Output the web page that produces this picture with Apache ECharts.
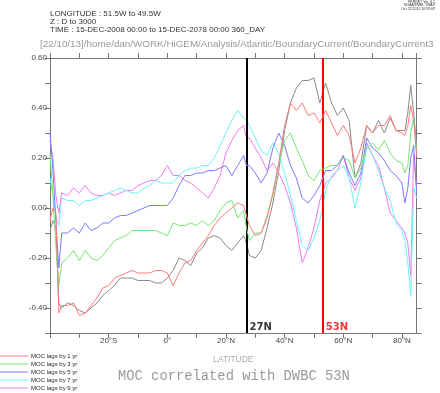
<!DOCTYPE html>
<html><head><meta charset="utf-8">
<script src="https://cdn.jsdelivr.net/npm/echarts@6/dist/echarts.min.js"></script>
<style>html,body{margin:0;padding:0;background:#fff}#c{width:440px;height:393px}</style>
</head><body><div id="c"></div>
<script>
const lats = [-40,-39,-38,-37,-36,-34,-32,-30,-28,-26,-24,-22,-20,-18,-16,-14,-12,-10,-8,-6,-4,-2,0,2,4,6,8,10,12,14,16,18,20,22,24,26,27,28,30,32,34,36,38,40,42,44,46,48,50,52,54,56,58,60,62,64,66,68,70,72,74,76,78,80,81,82,83,84,85];
const lag1 = [-0.05,0.00,-0.02,-0.42,-0.39,-0.39,-0.38,-0.43,-0.42,-0.39,-0.36,-0.32,-0.31,-0.28,-0.27,-0.26,-0.25,-0.26,-0.26,-0.26,-0.25,-0.25,-0.26,-0.31,-0.26,-0.22,-0.21,-0.17,-0.14,-0.11,-0.07,-0.04,-0.02,0.00,0.02,0.01,-0.03,-0.07,-0.11,-0.10,-0.04,0.06,0.18,0.33,0.42,0.39,0.42,0.37,0.38,0.34,0.39,0.34,0.29,0.33,0.29,0.18,0.24,0.33,0.30,0.33,0.33,0.37,0.31,0.30,0.29,0.33,0.41,0.35,0.21];
const lag3 = [0.22,0.05,-0.15,-0.31,-0.22,-0.20,-0.17,-0.21,-0.17,-0.20,-0.21,-0.19,-0.16,-0.13,-0.12,-0.11,-0.09,-0.09,-0.09,-0.09,-0.09,-0.10,-0.11,-0.06,-0.07,-0.07,-0.06,-0.07,-0.05,-0.07,-0.05,-0.01,0.02,0.03,-0.04,-0.01,-0.08,-0.13,-0.10,-0.10,-0.03,0.05,0.18,0.27,0.30,0.24,0.19,0.13,0.11,0.15,0.16,0.17,0.17,0.20,0.19,0.12,0.16,0.24,0.26,0.23,0.27,0.22,0.19,0.18,0.14,0.17,0.30,0.36,0.23];
const lag5 = [0.30,0.15,-0.05,-0.24,-0.10,-0.10,-0.08,-0.10,-0.06,-0.09,-0.08,-0.06,-0.06,-0.04,-0.03,-0.03,-0.02,-0.01,0.00,0.01,0.01,0.01,0.01,0.04,0.09,0.13,0.13,0.14,0.14,0.15,0.15,0.16,0.17,0.13,0.17,0.21,0.17,0.17,0.14,0.10,0.14,0.24,0.30,0.25,0.17,0.12,0.04,0.02,0.05,0.09,0.15,0.15,0.17,0.21,0.14,0.09,0.14,0.28,0.24,0.22,0.19,0.15,0.13,0.10,0.02,0.08,0.20,0.25,0.06];
const lag7 = [0.12,0.05,-0.03,-0.07,0.04,0.03,0.03,0.01,0.03,0.03,0.04,0.05,0.06,0.07,0.08,0.07,0.06,0.06,0.08,0.09,0.11,0.10,0.10,0.10,0.13,0.15,0.16,0.16,0.17,0.17,0.20,0.25,0.30,0.35,0.39,0.36,0.35,0.33,0.28,0.23,0.21,0.26,0.22,0.14,0.05,-0.05,-0.15,-0.17,-0.12,-0.05,0.07,0.13,0.15,0.17,0.12,0.00,0.10,0.25,0.21,0.15,0.08,0.03,-0.06,-0.09,-0.13,-0.22,-0.35,0.08,0.04];
const lag9 = [0.27,0.20,0.05,-0.02,0.06,0.05,0.08,0.06,0.09,0.06,0.05,0.05,0.06,0.05,0.06,0.07,0.07,0.09,0.10,0.11,0.11,0.13,0.17,0.13,0.13,0.11,0.10,0.08,0.06,0.04,0.08,0.13,0.22,0.27,0.31,0.33,0.28,0.28,0.24,0.20,0.15,0.18,0.14,0.09,0.02,-0.08,-0.22,-0.16,-0.08,0.03,0.10,0.12,0.15,0.21,0.12,0.07,0.12,0.26,0.21,0.17,0.08,-0.02,-0.05,-0.08,-0.10,-0.14,-0.27,0.22,0.08];
const lag0 = [-0.09,-0.05,-0.08,-0.38,-0.40,-0.38,-0.39,-0.41,-0.42,-0.40,-0.38,-0.35,-0.33,-0.31,-0.28,-0.28,-0.28,-0.29,-0.29,-0.29,-0.30,-0.30,-0.28,-0.25,-0.20,-0.21,-0.23,-0.18,-0.16,-0.12,-0.11,-0.12,-0.15,-0.17,-0.14,-0.11,-0.14,-0.19,-0.20,-0.17,-0.08,0.02,0.15,0.31,0.42,0.48,0.51,0.51,0.52,0.42,0.50,0.42,0.37,0.40,0.35,0.12,0.18,0.33,0.30,0.35,0.30,0.36,0.31,0.31,0.31,0.38,0.49,0.38,0.25];
const legendNames = ['MOC lags by 1 yr','MOC lags by 3 yr','MOC lags by 5 yr','MOC lags by 7 yr','MOC lags by 9 yr'];
const markerLats = [27, 53];
const markerLabels = ['27N', '53N'];
const yTickLabels = ['-0.40','-0.20','0.00','0.20','0.40','0.60'];

const colors = ['#ff7a7a','#74e874','#7a7aff','#6cf4f4','#f47af4','#8a8a8a'];
const seriesVals = [lag1, lag3, lag5, lag7, lag9, lag0];
const seriesNames = legendNames.concat(['MOC lags by 0 yr']);
const pairs = arr => lats.map((x, i) => [x, arr[i]]);

const chart = echarts.init(document.getElementById('c'), null, {renderer: 'canvas'});
const lineSeries = seriesVals.map((arr, i) => ({
  name: seriesNames[i], type: 'line', data: pairs(arr), showSymbol: false, symbol: 'none',
  lineStyle: {width: 1, color: colors[i]}, itemStyle: {color: colors[i]}, z: 2 + (5 - i), silent: true
}));
const markerSeries = {
  name: 'markers', type: 'scatter', symbolSize: 0, silent: true, z: 10,
  data: markerLats.map((x, i) => ({value: [x, -0.476], label: {formatter: markerLabels[i], color: i ? '#ff0000' : '#000000'}})),
  label: {show: true, position: 'right', distance: 3, fontFamily: 'DejaVu Sans', fontWeight: 'bold', fontSize: 10},
  markLine: {
    silent: true, symbol: ['none', 'none'], label: {show: false}, animation: false,
    data: [{xAxis: markerLats[0], lineStyle: {color: '#000', width: 2, type: 'solid'}},
           {xAxis: markerLats[1], lineStyle: {color: '#ff0000', width: 2, type: 'solid'}}]
  }
};
const fmtLat = v => {
  if (v % 20 !== 0 || v === -40) return '';
  return v < 0 ? (-v) + '°S' : (v === 0 ? '0°' : v + '°N');
};
const axisLine = {show: true, onZero: false, lineStyle: {color: '#777', width: 1}};
chart.setOption({
  animation: false,
  backgroundColor: '#fff',
  grid: {left: 50, top: 58, right: 23.4, bottom: 60, containLabel: false},
  legend: {
    data: legendNames, orient: 'vertical', left: 0, top: 352, itemWidth: 28, itemHeight: 1, itemGap: 0,
    icon: 'rect', selectedMode: false,
    textStyle: {fontSize: 6, lineHeight: 8, color: '#222', fontFamily: 'Liberation Sans', padding: [0,0,0,-2]}, padding: 0
  },
  xAxis: [
    {type: 'value', min: -40, max: 85, interval: 10, position: 'bottom',
     axisLine: axisLine, axisTick: {show: true, inside: false, length: 5, lineStyle: {color: '#777'}},
     axisLabel: {formatter: fmtLat, fontSize: 8, color: '#444', margin: 4, fontFamily: 'Liberation Sans', showMaxLabel: false},
     splitLine: {show: false},
     name: 'LATITUDE', nameLocation: 'middle', nameGap: 22, nameTextStyle: {color: '#aaa', fontSize: 8.5, fontFamily: 'Liberation Sans'}},
    {type: 'value', min: -40, max: 85, interval: 10, position: 'top',
     axisLine: axisLine, axisTick: {show: true, inside: false, length: 5, lineStyle: {color: '#777'}},
     axisLabel: {show: false}, splitLine: {show: false}}
  ],
  yAxis: [
    {type: 'value', min: -0.5, max: 0.6, interval: 0.1, position: 'left',
     axisLine: axisLine, axisTick: {show: true, inside: false, length: 5, lineStyle: {color: '#777'}},
     axisLabel: {fontSize: 8, color: '#444', margin: 3, fontFamily: 'Liberation Sans',
       formatter: v => { const k = Math.round(v * 10); let s = v.toFixed(2); if (s === '-0.00') s = '0.00'; return (yTickLabels.indexOf(s) >= 0 && k % 2 === 0) ? s : ''; }},
     splitLine: {show: false}},
    {type: 'value', min: -0.5, max: 0.6, interval: 0.1, position: 'right',
     axisLine: axisLine, axisTick: {show: true, inside: false, length: 5, lineStyle: {color: '#777'}},
     axisLabel: {show: false}, splitLine: {show: false}}
  ],
  graphic: [
    {type: 'text', left: 50, top: 10, style: {text: 'LONGITUDE : 51.5W to 49.5W', fontSize: 8, fill: '#333', fontFamily: 'Liberation Sans'}},
    {type: 'text', left: 50, top: 18, style: {text: 'Z : D to 3000', fontSize: 8, fill: '#333', fontFamily: 'Liberation Sans'}},
    {type: 'text', left: 50, top: 26, style: {text: 'TIME : 15-DEC-2008 00:00 to 15-DEC-2078 00:00 360_DAY', fontSize: 8, fill: '#333', fontFamily: 'Liberation Sans'}},
    {type: 'text', left: 40, top: 39, style: {text: '[22/10/13]/home/dan/WORK/HiGEM/Analysis/Atlantic/BoundaryCurrent/BoundaryCurrent3', fontSize: 9.85, fill: '#999', fontFamily: 'Liberation Sans'}},
    {type: 'text', right: 5, top: 0, style: {text: 'FERRET Ver. 6.1', fontSize: 3.5, fill: '#333', align: 'right', fontFamily: 'Liberation Sans'}},
    {type: 'text', right: 5, top: 3.5, style: {text: 'NOAA/PMEL TMAP', fontSize: 3.5, fill: '#333', align: 'right', fontFamily: 'Liberation Sans'}},
    {type: 'text', right: 5, top: 7, style: {text: 'Oct 22 2013 10:59:09', fontSize: 3.5, fill: '#333', align: 'right', fontFamily: 'Liberation Sans'}},
    {type: 'text', left: 118, top: 369, style: {text: 'MOC correlated with DWBC 53N', fontSize: 13.8, fill: '#999', fontFamily: 'Liberation Mono'}}
  ],
  series: lineSeries.concat([markerSeries])
});
</script></body></html>
